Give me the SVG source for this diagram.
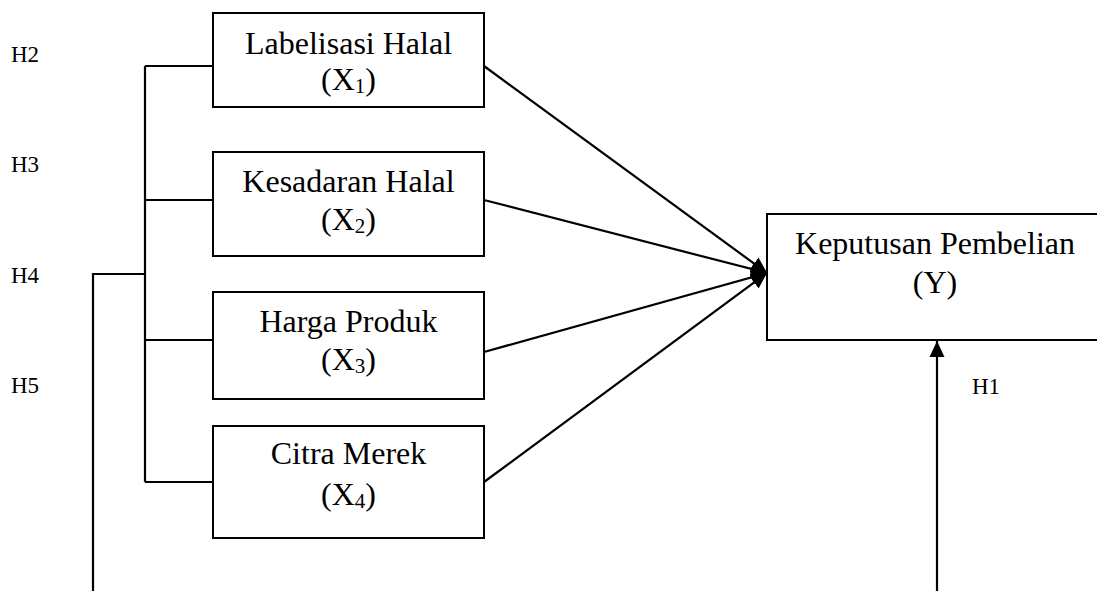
<svg xmlns="http://www.w3.org/2000/svg" width="1097" height="591" viewBox="0 0 1097 591">
<style>
.box{fill:#fff;stroke:#000;stroke-width:2}
.t{font-family:"Liberation Serif","Times New Roman",serif;font-size:32px;fill:#000;text-anchor:middle}
.sub{font-size:21px}
.h{font-family:"Liberation Serif","Times New Roman",serif;font-size:23px;fill:#000}
.ln{fill:none;stroke:#000;stroke-width:2.2}
.ar{fill:none;stroke:#000;stroke-width:2.2;marker-end:url(#ah)}
</style>
<defs>
<marker id="ah" markerUnits="userSpaceOnUse" markerWidth="18" markerHeight="18" viewBox="0 0 18 18" refX="16" refY="9" orient="auto">
<path d="M0,1.5 L16,9 L0,16.5 z" fill="#000"/>
</marker>
</defs>
<g id="connectors">
<polyline class="ln" points="93,591 93,274 145,274"/>
<line class="ln" x1="145" y1="66" x2="145" y2="482"/>
<line class="ln" x1="145" y1="66" x2="213" y2="66"/>
<line class="ln" x1="145" y1="200" x2="213" y2="200"/>
<line class="ln" x1="145" y1="340" x2="213" y2="340"/>
<line class="ln" x1="145" y1="482" x2="213" y2="482"/>
<line class="ar" x1="484" y1="66" x2="767" y2="273"/>
<line class="ar" x1="484" y1="200" x2="767" y2="273"/>
<line class="ar" x1="484" y1="352" x2="767" y2="273"/>
<line class="ar" x1="484" y1="482" x2="767" y2="273"/>
<line class="ar" x1="937" y1="591" x2="937" y2="341"/>
</g>
<g id="labels">
<text class="h" x="11" y="62">H2</text>
<text class="h" x="11" y="172">H3</text>
<text class="h" x="11" y="283">H4</text>
<text class="h" x="11" y="393">H5</text>
<text class="h" x="972" y="394">H1</text>
</g>
<g id="x1">
<rect class="box" x="213" y="13" width="271" height="94"/>
<text class="t" x="348.5" y="54">Labelisasi Halal</text>
<text class="t" x="348.5" y="90">(X<tspan class="sub" dy="3">1</tspan><tspan dy="-3">)</tspan></text>
</g>
<g id="x2">
<rect class="box" x="213" y="152" width="271" height="104"/>
<text class="t" x="348.5" y="192">Kesadaran Halal</text>
<text class="t" x="348.5" y="230">(X<tspan class="sub" dy="3">2</tspan><tspan dy="-3">)</tspan></text>
</g>
<g id="x3">
<rect class="box" x="213" y="292" width="271" height="107"/>
<text class="t" x="348.5" y="332">Harga Produk</text>
<text class="t" x="348.5" y="370">(X<tspan class="sub" dy="3">3</tspan><tspan dy="-3">)</tspan></text>
</g>
<g id="x4">
<rect class="box" x="213" y="426" width="271" height="112"/>
<text class="t" x="348.5" y="464">Citra Merek</text>
<text class="t" x="348.5" y="505">(X<tspan class="sub" dy="3">4</tspan><tspan dy="-3">)</tspan></text>
</g>
<g id="y">
<rect class="box" x="767" y="214" width="336" height="126"/>
<text class="t" x="935" y="254">Keputusan Pembelian</text>
<text class="t" x="935" y="293">(Y)</text>
</g>
</svg>
